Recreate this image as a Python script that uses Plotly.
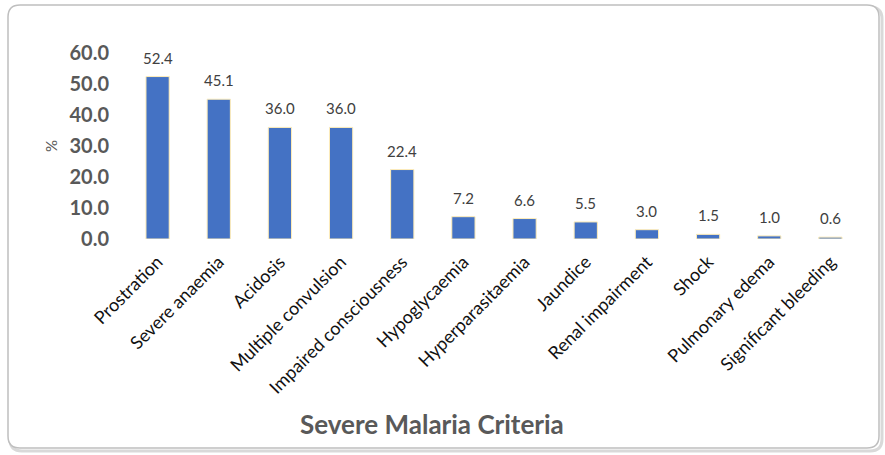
import plotly.graph_objects as go

categories = [
    "Prostration", "Severe anaemia", "Acidosis", "Multiple convulsion",
    "Impaired consciousness", "Hypoglycaemia", "Hyperparasitaemia", "Jaundice",
    "Renal impairment", "Shock", "Pulmonary edema", "Significant bleeding",
]
percent = [52.4, 45.1, 36.0, 36.0, 22.4, 7.2, 6.6, 5.5, 3.0, 1.5, 1.0, 0.6]
y_ticks = [0, 10, 20, 30, 40, 50, 60]

W_FIG, H_FIG = 885, 455
M_L, M_R, M_T, M_B = 127, 24, 53, 216
PW = W_FIG - M_L - M_R
PH = H_FIG - M_T - M_B


def px_x(x):
    return (x - M_L) / PW


def px_y(y):
    return (H_FIG - M_B - y) / PH


def rounded_rect(x0, y0, x1, y1, r):
    pts = [
        f"M {px_x(x0 + r)} {px_y(y0)}",
        f"L {px_x(x1 - r)} {px_y(y0)}",
        f"Q {px_x(x1)} {px_y(y0)} {px_x(x1)} {px_y(y0 + r)}",
        f"L {px_x(x1)} {px_y(y1 - r)}",
        f"Q {px_x(x1)} {px_y(y1)} {px_x(x1 - r)} {px_y(y1)}",
        f"L {px_x(x0 + r)} {px_y(y1)}",
        f"Q {px_x(x0)} {px_y(y1)} {px_x(x0)} {px_y(y1 - r)}",
        f"L {px_x(x0)} {px_y(y0 + r)}",
        f"Q {px_x(x0)} {px_y(y0)} {px_x(x0 + r)} {px_y(y0)}",
        "Z",
    ]
    return " ".join(pts)


fig = go.Figure(
    go.Bar(
        x=categories,
        y=percent,
        marker=dict(color="#4472C4", line=dict(color="#FFEDB8", width=1)),
        width=0.38,
        cliponaxis=False,
    )
)

# value labels above each bar
annotations = [
    dict(x=c, y=v, text=f"{v:.1f}", showarrow=False, xref="x", yref="y",
         yshift=19, yanchor="middle",
         font=dict(family="Lato", size=15, color="#404040"))
    for c, v in zip(categories, percent)
]

# category axis title
annotations.append(
    dict(x=px_x(432), y=px_y(424), xref="paper", yref="paper",
         text="<b>Severe Malaria Criteria</b>", showarrow=False,
         xanchor="center", yanchor="middle",
         font=dict(family="Lato", size=26, color="#595959"))
)

shapes = [
    # soft drop shadow of the frame
    dict(type="path", xref="paper", yref="paper",
         path=rounded_rect(10, 7, 882, 451, 12),
         line=dict(color="#D9D9D9", width=3), layer="below"),
    # chart frame
    dict(type="path", xref="paper", yref="paper",
         path=rounded_rect(8, 5, 879, 448, 12),
         line=dict(color="#BFBFBF", width=1.5), fillcolor="white", layer="below"),
]

fig.update_layout(
    width=W_FIG,
    height=H_FIG,
    margin=dict(l=M_L, r=M_R, t=M_T, b=M_B),
    paper_bgcolor="white",
    plot_bgcolor="white",
    showlegend=False,
    shapes=shapes,
    annotations=annotations,
    font=dict(family="Lato"),
    xaxis=dict(
        tickangle=-45,
        tickfont=dict(family="Lato", size=18, color="#111111"),
        showline=False,
        ticks="",
        showgrid=False,
        ticklabelstandoff=8,
    ),
    yaxis=dict(
        range=[0, 60],
        tickvals=y_ticks,
        ticktext=[f"<b>{v:.1f}</b>" for v in y_ticks],
        tickfont=dict(family="Lato", size=20, color="#595959"),
        showgrid=False,
        zeroline=False,
        showline=False,
        ticks="",
        ticklabelstandoff=17,
        title=dict(text="%", font=dict(family="Lato", size=15, color="#595959"),
                   standoff=8),
    ),
)

fig.write_html("out.html")
